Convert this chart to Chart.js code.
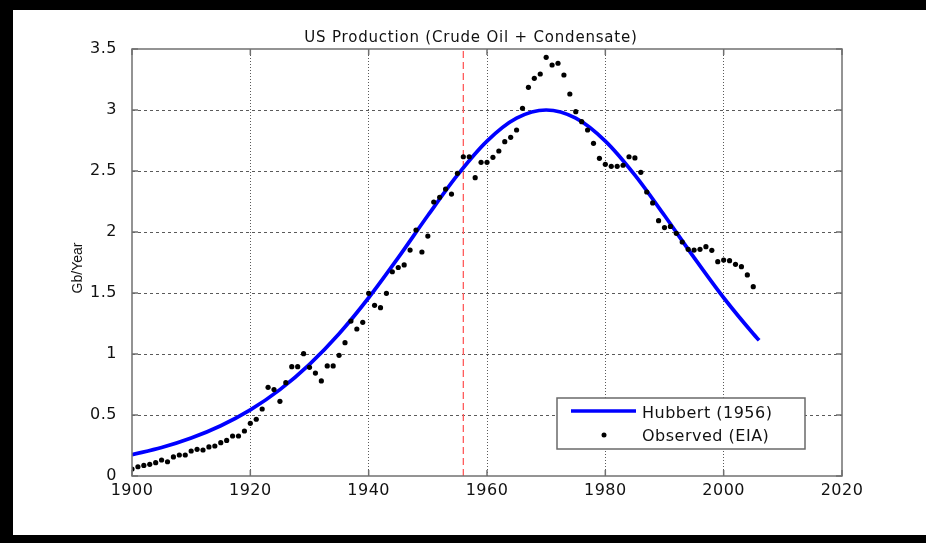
<!DOCTYPE html>
<html>
<head>
<meta charset="utf-8">
<title>US Production (Crude Oil + Condensate)</title>
<script src="https://cdn.jsdelivr.net/npm/chart.js@4.4.1/dist/chart.umd.min.js"></script>
<style>
  html, body { margin: 0; padding: 0; background: #fff; overflow: hidden; width: 926px; height: 543px; }
  #wrap { position: relative; width: 926px; height: 543px; overflow: hidden; background: #fff; }
  .band { position: absolute; background: #000; }
  #c { position: absolute; left: 0; top: 0; }
</style>
</head>
<body>
<div id="wrap">
  <div class="band" style="left:0;top:0;width:926px;height:10px"></div>
  <div class="band" style="left:0;top:0;width:13px;height:543px"></div>
  <div class="band" style="left:0;top:535px;width:926px;height:8px"></div>
  <canvas id="c" width="926" height="543"></canvas>
</div>
<script>
/* ================================================
   DATA
================================================ */

const titleText  = 'US Production (Crude Oil + Condensate)';
const yLabelText = 'Gb/Year';

/* Observed (EIA), Gb/year */
const obsYears = [
  1900, 1901, 1902, 1903, 1904, 1905, 1906, 1907, 1908, 1909,
  1910, 1911, 1912, 1913, 1914, 1915, 1916, 1917, 1918, 1919,
  1920, 1921, 1922, 1923, 1924, 1925, 1926, 1927, 1928, 1929,
  1930, 1931, 1932, 1933, 1934, 1935, 1936, 1937, 1938, 1939,
  1940, 1941, 1942, 1943, 1944, 1945, 1946, 1947, 1948, 1949,
  1950, 1951, 1952, 1953, 1954, 1955, 1956, 1957, 1958, 1959,
  1960, 1961, 1962, 1963, 1964, 1965, 1966, 1967, 1968, 1969,
  1970, 1971, 1972, 1973, 1974, 1975, 1976, 1977, 1978, 1979,
  1980, 1981, 1982, 1983, 1984, 1985, 1986, 1987, 1988, 1989,
  1990, 1991, 1992, 1993, 1994, 1995, 1996, 1997, 1998, 1999,
  2000, 2001, 2002, 2003, 2004, 2005
];
const obsValues = [
  0.057, 0.076, 0.087, 0.096, 0.109, 0.131, 0.117, 0.156, 0.172, 0.172,
  0.205, 0.219, 0.213, 0.238, 0.246, 0.273, 0.292, 0.328, 0.328, 0.369,
  0.432, 0.465, 0.549, 0.727, 0.708, 0.612, 0.765, 0.896, 0.896, 1.003,
  0.891, 0.844, 0.779, 0.902, 0.902, 0.989, 1.093, 1.270, 1.205, 1.260,
  1.497, 1.399, 1.380, 1.497, 1.674, 1.709, 1.730, 1.852, 2.016, 1.836,
  1.967, 2.246, 2.284, 2.352, 2.311, 2.481, 2.617, 2.617, 2.445, 2.571,
  2.571, 2.612, 2.664, 2.740, 2.776, 2.836, 3.014, 3.186, 3.260, 3.295,
  3.432, 3.369, 3.383, 3.287, 3.131, 2.986, 2.904, 2.836, 2.727, 2.604,
  2.555, 2.538, 2.538, 2.547, 2.617, 2.607, 2.489, 2.328, 2.238, 2.093,
  2.036, 2.046, 1.989, 1.918, 1.858, 1.852, 1.858, 1.880, 1.850, 1.757,
  1.770, 1.765, 1.735, 1.716, 1.648, 1.552
];

/* Hubbert (1956) curve, Gb/year */
const hubYears  = [1900, 1905, 1910, 1915, 1920, 1925, 1930, 1935, 1940, 1945, 1950, 1955,
                   1960, 1965, 1970, 1975, 1980, 1985, 1990, 1995, 2000, 2005, 2006];
const hubValues = [0.175, 0.233, 0.311, 0.412, 0.542, 0.708, 0.915, 1.166, 1.461, 1.790, 2.135, 2.466,
                   2.745, 2.933, 3.000, 2.933, 2.745, 2.466, 2.135, 1.790, 1.461, 1.166, 1.112];

/* Vertical marker: year of Hubbert's prediction */
const markerYear  = [1956, 1956];
const markerRange = [0, 3.5];

/* Axis ticks */
const xTicks = [1900, 1920, 1940, 1960, 1980, 2000, 2020];
const yTicks = [0, 0.5, 1, 1.5, 2, 2.5, 3, 3.5];

const legendItems = ['Hubbert (1956)', 'Observed (EIA)'];

/* ================================================
   HELPERS
================================================ */

const zip = (xs, ys) => xs.map((x, i) => ({ x, y: ys[i] }));

const FONT     = '"DejaVu Sans", sans-serif';
const TXT      = '#111';
const GRID_C   = '#5a5a5a';
const FRAME_C  = '#707070';

/* ================================================
   DECOR PLUGIN  (frame, inner ticks, title, y label, legend)
================================================ */

const decor = {
  id: 'decor',
  beforeDraw(chart) {
    chart.ctx.letterSpacing = '0.5px';
  },
  afterDraw(chart) {
    const { ctx, chartArea: a, scales } = chart;
    ctx.save();

    /* plot box */
    ctx.strokeStyle = FRAME_C;
    ctx.lineWidth   = 1.5;
    ctx.setLineDash([]);
    ctx.strokeRect(a.left, a.top, a.right - a.left, a.bottom - a.top);

    /* inner tick marks, all four sides */
    ctx.beginPath();
    xTicks.forEach(v => {
      const px = scales.x.getPixelForValue(v);
      ctx.moveTo(px, a.bottom); ctx.lineTo(px, a.bottom - 6);
      ctx.moveTo(px, a.top);    ctx.lineTo(px, a.top + 6);
    });
    yTicks.forEach(v => {
      const py = scales.y.getPixelForValue(v);
      ctx.moveTo(a.left, py);  ctx.lineTo(a.left + 6, py);
      ctx.moveTo(a.right, py); ctx.lineTo(a.right - 6, py);
    });
    ctx.stroke();

    /* title */
    ctx.fillStyle     = TXT;
    ctx.font          = '15px ' + FONT;
    ctx.letterSpacing = '0.8px';
    ctx.textAlign     = 'center';
    ctx.textBaseline  = 'alphabetic';
    ctx.fillText(titleText, 471, 42);

    /* y axis label */
    ctx.save();
    ctx.translate(78, 268);
    ctx.rotate(-Math.PI / 2);
    ctx.font          = '14px "Liberation Sans", Arial, sans-serif';
    ctx.letterSpacing = '0px';
    ctx.textBaseline  = 'middle';
    ctx.fillText(yLabelText, 0, 0);
    ctx.restore();

    /* legend box */
    const bx = a.right - 37 - 248, by = a.bottom - 27 - 51;
    ctx.fillStyle   = '#fff';
    ctx.fillRect(bx, by, 248, 51);
    ctx.strokeStyle = '#6a6a6a';
    ctx.lineWidth   = 1.5;
    ctx.strokeRect(bx, by, 248, 51);

    ctx.strokeStyle = '#0000ff';
    ctx.lineWidth   = 3.5;
    ctx.beginPath();
    ctx.moveTo(bx + 14, by + 13);
    ctx.lineTo(bx + 79, by + 13);
    ctx.stroke();

    ctx.fillStyle = '#000';
    ctx.beginPath();
    ctx.arc(bx + 47, by + 37, 2.5, 0, Math.PI * 2);
    ctx.fill();

    ctx.fillStyle     = TXT;
    ctx.font          = '16px ' + FONT;
    ctx.letterSpacing = '0.5px';
    ctx.textAlign     = 'left';
    ctx.textBaseline  = 'middle';
    ctx.fillText(legendItems[0], bx + 85, by + 16);
    ctx.fillText(legendItems[1], bx + 85, by + 39);

    ctx.restore();
  }
};

/* ================================================
   CHART
================================================ */

const edgeOff = (vals) => ctx => {
  const v = ctx.tick ? ctx.tick.value : null;
  return (v === vals[0] || v === vals[vals.length - 1]) ? 'rgba(0,0,0,0)' : GRID_C;
};

new Chart(document.getElementById('c'), {
  type: 'scatter',
  data: {
    datasets: [
      {
        label: legendItems[1],
        data: zip(obsYears, obsValues),
        showLine: false,
        pointRadius: 2.6,
        pointHoverRadius: 2.6,
        pointBackgroundColor: '#000',
        pointBorderWidth: 0,
        order: 0,
      },
      {
        label: legendItems[0],
        data: zip(hubYears, hubValues),
        showLine: true,
        borderColor: '#0000ff',
        borderWidth: 3.7,
        pointRadius: 0,
        cubicInterpolationMode: 'monotone',
        order: 1,
      },
      {
        label: 'marker',
        data: zip(markerYear, markerRange),
        showLine: true,
        borderColor: '#ff5c5c',
        borderWidth: 1.3,
        borderDash: [7, 4],
        pointRadius: 0,
        order: 2,
      },
    ],
  },
  options: {
    responsive: false,
    devicePixelRatio: 1,
    animation: false,
    events: [],
    layout: { padding: { left: 0, top: 49, right: 84, bottom: 0 } },
    plugins: {
      legend:  { display: false },
      title:   { display: false },
      tooltip: { enabled: false },
    },
    scales: {
      x: {
        type: 'linear',
        min: 1900,
        max: 2020,
        afterFit: s => { s.height = 67; },
        afterBuildTicks: s => { s.ticks = xTicks.map(v => ({ value: v })); },
        ticks: {
          color: TXT,
          font: { family: FONT, size: 16 },
          padding: 5,
          maxRotation: 0,
          autoSkip: false,
          callback: v => String(v),
        },
        grid: {
          drawTicks: false,
          color: edgeOff(xTicks),
          lineWidth: 1,
        },
        border: { display: false, dash: [1, 2] },
      },
      y: {
        type: 'linear',
        min: 0,
        max: 3.5,
        afterFit: s => { s.width = 132; },
        afterBuildTicks: s => { s.ticks = yTicks.map(v => ({ value: v })); },
        ticks: {
          color: TXT,
          font: { family: FONT, size: 16 },
          padding: 15,
          autoSkip: false,
          callback: v => String(v),
        },
        grid: {
          drawTicks: false,
          color: edgeOff(yTicks),
          lineWidth: 1,
        },
        border: { display: false, dash: [3, 3] },
      },
    },
  },
  plugins: [decor],
});
</script>
</body>
</html>
